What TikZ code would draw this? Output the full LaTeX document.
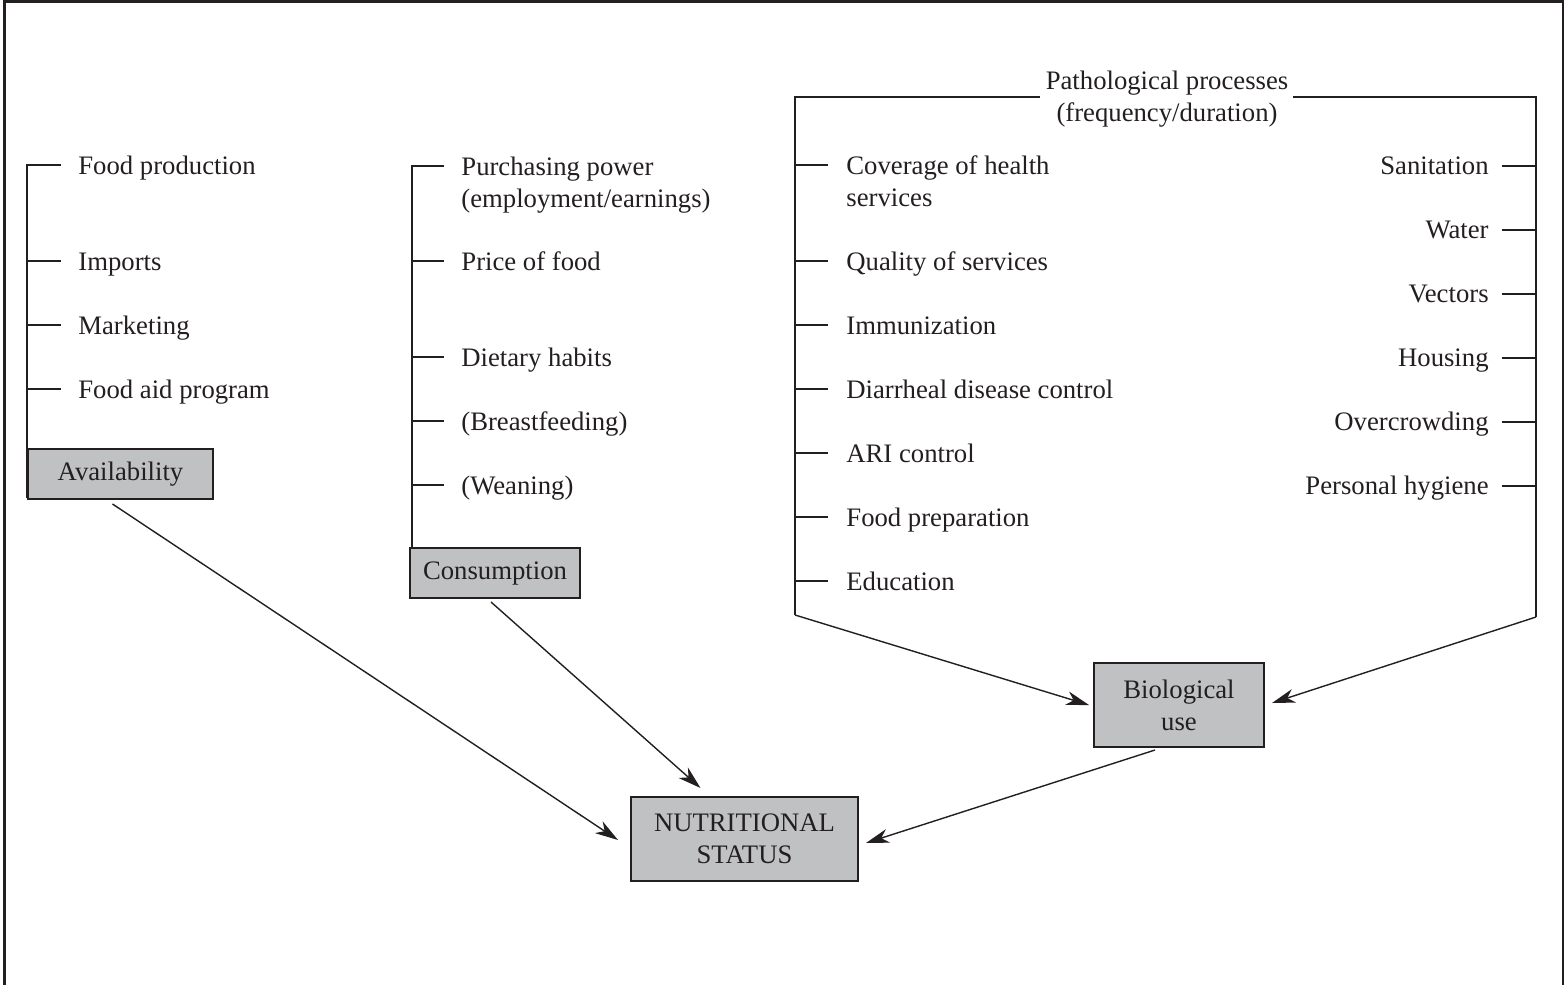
\documentclass[tikz,border=0pt]{standalone}
\usepackage{fontspec}
\setmainfont{Liberation Serif}
\usetikzlibrary{arrows.meta}
\definecolor{ink}{HTML}{231F20}
\definecolor{boxfill}{HTML}{C0C1C3}
\begin{document}
\begin{tikzpicture}[x=0.5pt,y=-0.5pt,
  font=\fontsize{13.35}{16}\selectfont,
  lbl/.style={inner sep=0pt, text=ink, anchor=base west},
  rlbl/.style={inner sep=0pt, text=ink, anchor=base east},
  clbl/.style={inner sep=0pt, text=ink, anchor=base},
  tick/.style={draw=ink, line width=0.7pt},
  gbox/.style={draw=ink, line width=1pt, fill=boxfill, text=ink, inner sep=0pt, align=center},
  arr/.style={draw=ink, line width=0.7pt, -{Stealth[length=11.5pt,width=7pt,inset=3.5pt]}},
  frame/.style={draw=ink, line width=1.5pt}]
\useasboundingbox (0,0) rectangle (1564,985);
% outer frame (open at the bottom)
\draw[frame] (4.3,985) -- (4.3,1.3) -- (1563.3,1.3) -- (1563.3,985);

% ---------- Availability column ----------
\draw[tick] (61,165) -- (27,165) -- (27,498);
\foreach \yy in {261,325,389} \draw[tick] (27,\yy) -- (61,\yy);
\node[lbl] (fp) at (78,174) {Food production};
\node[lbl] (imp) at (78,270) {Imports};
\node[lbl] (mkt) at (78,334) {Marketing};
\node[lbl] (fap) at (78,398) {Food aid program};
\node[gbox, minimum width=92.5pt, minimum height=25pt] (avail) at (120.5,474) {Availability};

% ---------- Consumption column ----------
\draw[tick] (444,166) -- (412,166) -- (412,548);
\foreach \yy in {261,357,421,485} \draw[tick] (412,\yy) -- (444,\yy);
\node[lbl] (pp1) at (461,175) {Purchasing power};
\node[lbl] (pp2) at (461,207) {(employment/earnings)};
\node[lbl] (pof) at (461,270) {Price of food};
\node[lbl] (dh) at (461,366) {Dietary habits};
\node[lbl] (bf) at (461,430) {(Breastfeeding)};
\node[lbl] (wn) at (461,494) {(Weaning)};
\node[gbox, minimum width=85pt, minimum height=25pt] (cons) at (495,573) {Consumption};

% ---------- Pathological processes bracket ----------
\node[clbl] (pt1) at (1167,89) {Pathological processes};
\node[clbl] (pt2) at (1167,121) {(frequency/duration)};
\coordinate (tl) at (795,97);
\coordinate (tr) at (1536,97);
\coordinate (bl) at (795,615);
\coordinate (br) at (1536,617);
\draw[tick] (1040,97) -- (tl) -- (bl);
\draw[tick] (1293,97) -- (tr) -- (br);
\foreach \yy in {165,261,325,389,453,517,581} \draw[tick] (795,\yy) -- (828,\yy);
\node[lbl] (cov1) at (846,174) {Coverage of health};
\node[lbl] (cov2) at (846,206) {services};
\node[lbl] (qos) at (846,270) {Quality of services};
\node[lbl] (imm) at (846,334) {Immunization};
\node[lbl] (ddc) at (846,398) {Diarrheal disease control};
\node[lbl] (ari) at (846,462) {ARI control};
\node[lbl] (fpr) at (846,526) {Food preparation};
\node[lbl] (edu) at (846,590) {Education};
\foreach \yy in {166,230,294,358,422,486} \draw[tick] (1502,\yy) -- (1536,\yy);
\node[rlbl] (san) at (1489,174) {Sanitation};
\node[rlbl] (wat) at (1489,238) {Water};
\node[rlbl] (vec) at (1489,302) {Vectors};
\node[rlbl] (hou) at (1489,366) {Housing};
\node[rlbl] (ovc) at (1489,430) {Overcrowding};
\node[rlbl] (phy) at (1489,494) {Personal hygiene};

% ---------- Result boxes ----------
\node[gbox, minimum width=85pt, minimum height=42pt] (bio) at (1179,705) {Biological\\use};
\node[gbox, minimum width=113.5pt, minimum height=42pt] (nut) at (744.5,839) {NUTRITIONAL\\STATUS};

% ---------- Arrows ----------
\draw[arr] ([shift={(-8,4)}]avail.south) -- ([shift={(-12,1)}]nut.west);
\draw[arr] ([shift={(-4,3)}]cons.south) -- ([shift={(-44,-8)}]nut.north);
\draw[arr] ([shift={(-24,2)}]bio.south) -- ([shift={(7,4)}]nut.east);
\draw[arr] (bl) -- ([shift={(-4,0)}]bio.west);
\draw[arr] (br) -- ([shift={(7,-2)}]bio.east);
\end{tikzpicture}
\end{document}
